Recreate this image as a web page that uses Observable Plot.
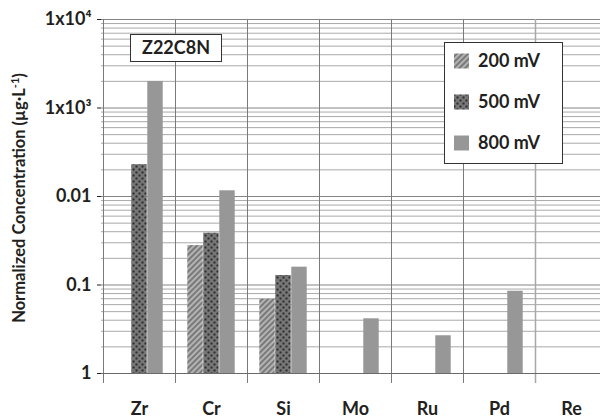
<!DOCTYPE html>
<html><head><meta charset="utf-8">
<script src="https://cdn.jsdelivr.net/npm/d3@7"></script>
<script src="https://cdn.jsdelivr.net/npm/@observablehq/plot@0.6"></script>
<style>
html,body{margin:0;padding:0;background:#fff;width:600px;height:419px;overflow:hidden}
#chart svg{display:block;max-width:none !important;width:609px;height:419px}
</style>
</head><body><div id="chart"></div>
<script>
const elements = ["Zr", "Cr", "Si", "Mo", "Ru", "Pd", "Re"];
const seriesNames = ["200 mV", "500 mV", "800 mV"];
const v200 = [null, 27.9, 6.9, null, null, null, null];
const v500 = [229, 38.5, 12.8, null, null, null, null];
const v800 = [1995, 116, 15.9, 4.15, 2.67, 8.5, null];
const yTicks = [1, 10, 100, 1000, 10000];
const yTickLabels = ["1", "0.1", "0.01", "1x10³", "1x10⁴"];
const sampleLabel = "Z22C8N";
const yTitle = "Normalized Concentration (µg·L";
const yTitleSup = "-1";

const fills = ["url(#p200)", "url(#p500)", "#979797"];
const allSeries = [v200, v500, v800];
const rows = allSeries.map((vals, s) =>
  elements.map((e, i) => ({element: e, series: seriesNames[s], value: vals[i]})).filter(d => d.value != null)
);
const minorGrid = yTicks.slice(0, -1).flatMap(d => d3.range(2, 10).map(k => k * d));

const W = 609, H = 419, ML = 101, MT = 19, MB = 46, MR = 0;
const bw = (W - ML - MR) / elements.length;
const slot = 16, outer = (bw - 3 * slot) / 2;

const chart = Plot.plot({
  width: W, height: H,
  marginLeft: ML, marginTop: MT, marginBottom: MB, marginRight: MR,
  style: {fontFamily: "Lato, sans-serif", fontWeight: "bold", fontSize: "18px", color: "#231f20", background: "#fff"},
  x: {type: "band", domain: elements, padding: 0, tickSize: 0, tickPadding: 29, label: null},
  y: {type: "log", domain: [1, 10000], ticks: yTicks, tickFormat: d => yTickLabels[yTicks.indexOf(d)], tickSize: 4, tickPadding: 6, label: null},
  marks: [
    Plot.ruleY(minorGrid, {stroke: "#a9a9a9", strokeWidth: 1}),
    Plot.ruleY(yTicks, {stroke: "#858585", strokeWidth: 1}),
    ...rows.map((r, s) => Plot.barY(r, {
      x: "element", y1: 1, y2: "value", fill: fills[s],
      insetLeft: outer + s * slot, insetRight: outer + (2 - s) * slot
    }))
  ]
});
document.getElementById("chart").appendChild(chart);

const svg = d3.select(chart);
const defs = svg.insert("defs", ":first-child");
const p2 = defs.append("pattern").attr("id", "p200").attr("patternUnits", "userSpaceOnUse")
  .attr("width", 4).attr("height", 4).attr("patternTransform", "rotate(45)");
p2.append("rect").attr("width", 4).attr("height", 4).attr("fill", "#b3b3b3");
p2.append("rect").attr("width", 2).attr("height", 4).attr("fill", "#7a7a7a");
const p5 = defs.append("pattern").attr("id", "p500").attr("patternUnits", "userSpaceOnUse")
  .attr("width", 6).attr("height", 6);
p5.append("rect").attr("width", 6).attr("height", 6).attr("fill", "#777777");
p5.append("rect").attr("x", 0.5).attr("y", 0.5).attr("width", 2).attr("height", 2).attr("fill", "#2a2a2a");
p5.append("rect").attr("x", 3.5).attr("y", 3.5).attr("width", 2).attr("height", 2).attr("fill", "#2a2a2a");

// category separators
const xs = chart.scale("x");
const ys = chart.scale("y");
const y0 = ys.apply(1), yTop = ys.apply(10000);
const sep = svg.append("g");
elements.forEach((e, i) => {
  const x = Math.round(xs.apply(e)) + 0.5;
  sep.append("line").attr("x1", x).attr("x2", x).attr("y1", yTop).attr("y2", y0 + 10)
    .attr("stroke", i === 6 ? "#a8a8a8" : "#7a7a7a").attr("stroke-width", i === 6 ? 1.5 : 1);
});
sep.append("line").attr("x1", ML).attr("x2", W).attr("y1", y0 + 0.5).attr("y2", y0 + 0.5).attr("stroke", "#6a6a6a");

// y title
const t = svg.append("text").attr("transform", `translate(25,${(MT + y0) / 2 + 2}) rotate(-90)`)
  .attr("text-anchor", "middle").attr("font-size", 16.5).attr("fill", "#231f20");
t.append("tspan").text(yTitle);
t.append("tspan").attr("font-size", 11).attr("dy", -6).text(yTitleSup);
t.append("tspan").attr("dy", 6).text(")");

// sample label box
svg.append("rect").attr("x", 130.5).attr("y", 34.5).attr("width", 91).attr("height", 27)
  .attr("fill", "#fff").attr("stroke", "#333");
svg.append("text").attr("x", 176).attr("y", 48).attr("dy", "0.36em").attr("text-anchor", "middle")
  .attr("font-size", 18).attr("fill", "#231f20").text(sampleLabel);

// legend
const lg = svg.append("g");
lg.append("rect").attr("x", 444.5).attr("y", 42.5).attr("width", 118).attr("height", 121)
  .attr("fill", "#fff").attr("stroke", "#333");
seriesNames.forEach((s, i) => {
  const cy = 61 + i * 41;
  lg.append("rect").attr("x", 454).attr("y", cy - 7.5).attr("width", 15).attr("height", 15).attr("fill", fills[i]);
  lg.append("text").attr("x", 478).attr("y", cy).attr("dy", "0.36em").attr("font-size", 18)
    .attr("text-anchor", "start").attr("fill", "#231f20").text(s);
});
</script>
</body></html>
